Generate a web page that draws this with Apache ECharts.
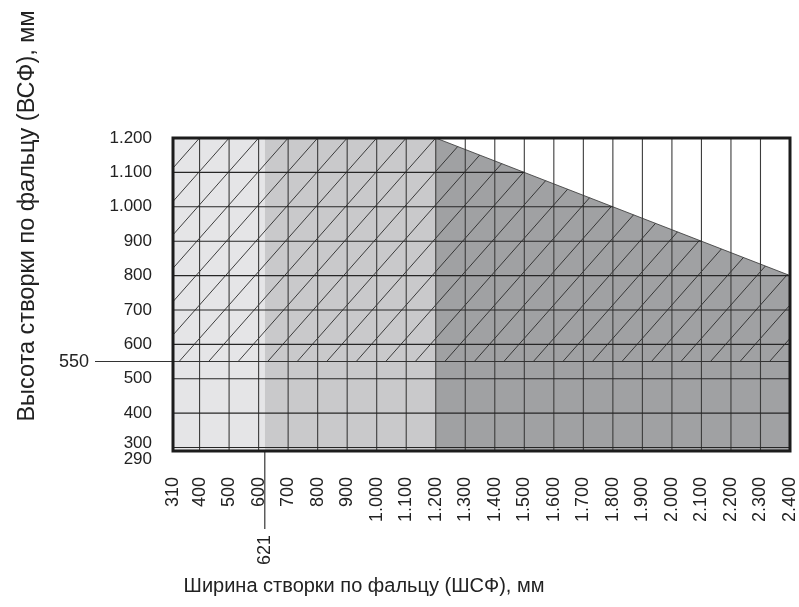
<!DOCTYPE html>
<html>
<head>
<meta charset="utf-8">
<script src="https://cdn.jsdelivr.net/npm/echarts/dist/echarts.min.js"></script>
<style>
html,body{margin:0;padding:0;background:#fff;}
#chart{width:799px;height:607px;}
</style>
</head>
<body>
<div id="chart"></div>
<script>
// ---- data ----
const xTicks = [310,400,500,600,700,800,900,1000,1100,1200,1300,1400,1500,1600,1700,1800,1900,2000,2100,2200,2300,2400];
const yTicks = [290,300,400,500,600,700,800,900,1000,1100,1200];
const zoneBreaks = [310, 621, 1200, 2400];          // width boundaries of shaded zones, mm
const zoneColors = ['#e5e5e7', '#c9c9cb', '#a0a1a3'];
const limitW = [310, 1200, 2400];                    // upper limit line (width, mm)
const limitH = [1200, 1200, 800];                    // upper limit line (height, mm)
const hatchFromH = 550;                              // hatched above this height
const hatchStep = 100;                               // hatch spacing along width, mm
const hatchRun = 1.03;                               // hatch: width change per 1 mm of height
const markW = 621;                                   // marked width
const markH = 550;                                   // marked height
const minW = 310, maxW = 2400, minH = 290, maxH = 1200;

const FONT = '"Liberation Sans", Arial, Helvetica, sans-serif';
const fmt = v => v >= 1000 ? Math.floor(v/1000) + '.' + String(v % 1000).padStart(3,'0') : String(v);

function limitAt(x){
  for (let i = 0; i < limitW.length - 1; i++){
    if (x >= limitW[i] && x <= limitW[i+1]){
      const t = (x - limitW[i]) / (limitW[i+1] - limitW[i]);
      return limitH[i] + t * (limitH[i+1] - limitH[i]);
    }
  }
  return limitH[limitH.length-1];
}
// largest width at which the limit is still >= h
function limitEndW(h){
  for (let i = limitW.length - 1; i > 0; i--){
    const h0 = limitH[i-1], h1 = limitH[i];
    if (h1 >= h) return limitW[i];
    if (h0 >= h){
      const t = (h0 - h) / (h0 - h1);
      return limitW[i-1] + t * (limitW[i] - limitW[i-1]);
    }
  }
  return limitW[0];
}
function zonePolygon(x0, x1){
  const pts = [[x0, minH], [x1, minH]];
  const top = [[x1, limitAt(x1)]];
  for (let i = limitW.length - 1; i >= 0; i--){
    if (limitW[i] > x0 && limitW[i] < x1) top.push([limitW[i], limitH[i]]);
  }
  top.push([x0, limitAt(x0)]);
  return pts.concat(top);
}
// hatch segment for a line that crosses maxH at width xTop
function hatchSegment(xTop){
  let start = [xTop - hatchRun * (maxH - hatchFromH), hatchFromH];
  if (start[0] < minW) start = [minW, maxH - (xTop - minW) / hatchRun];
  if (start[0] > maxW) return null;
  let end;
  if (xTop <= limitW[1]) end = [xTop, maxH];
  else {
    const s = (limitH[1] - limitH[2]) / (limitW[2] - limitW[1]);
    const d = s * (xTop - limitW[1]) / (1 + s * hatchRun);
    end = [xTop - hatchRun * d, maxH - d];
    if (end[0] > maxW){ const d2 = (xTop - maxW) / hatchRun; end = [maxW, maxH - d2]; }
  }
  if (end[1] <= start[1]) return null;
  return [start, end];
}

const hatchTops = [];
for (let x = minW + (hatchStep - minW % hatchStep) % hatchStep; x - hatchRun*(maxH-hatchFromH) < maxW; x += hatchStep){
  if (x === minW) continue;
  hatchTops.push(x);
}

const chart = echarts.init(document.getElementById('chart'), null, {renderer: 'canvas'});

const option = {
  backgroundColor: '#fff',
  animation: false,
  grid: {left: 173, right: 6, top: 138, bottom: 156, containLabel: false, show: false},
  xAxis: {
    type: 'value', min: minW, max: maxW,
    axisLine: {show: false}, axisTick: {show: false}, splitLine: {show: false},
    axisLabel: {
      customValues: xTicks, rotate: 90, margin: 26, fontSize: 18, fontFamily: FONT, color: '#222',
      formatter: v => fmt(v), showMinLabel: true, showMaxLabel: true, hideOverlap: false
    }
  },
  yAxis: {
    type: 'value', min: minH, max: maxH,
    axisLine: {show: false}, axisTick: {show: false}, splitLine: {show: false},
    axisLabel: {
      customValues: yTicks.filter(v => v > minH), margin: 21, fontSize: 17, fontFamily: FONT, color: '#222',
      formatter: v => (v === 300 ? '{up|300}' : fmt(v)),
      rich: {
        up: {fontSize: 17, fontFamily: FONT, color: '#222', padding: [0, 0, 8, 0]}
      },
      showMinLabel: true, showMaxLabel: true, hideOverlap: false
    }
  },
  series: [
    { // shaded zones
      type: 'custom', z: 1, silent: true,
      data: zoneColors.map((c, i) => [zoneBreaks[i], zoneBreaks[i+1], i]),
      renderItem: (params, api) => {
        const x0 = api.value(0), x1 = api.value(1), i = api.value(2);
        const pts = zonePolygon(x0, x1).map(p => api.coord(p));
        return {type: 'polygon', shape: {points: pts}, style: {fill: zoneColors[i], stroke: null}};
      }
    },
    { // hatch
      type: 'custom', z: 2, silent: true,
      data: hatchTops.map(v => [v]),
      renderItem: (params, api) => {
        const seg = hatchSegment(api.value(0));
        if (!seg) return null;
        const a = api.coord(seg[0]), b = api.coord(seg[1]);
        return {type: 'line', shape: {x1: a[0], y1: a[1], x2: b[0], y2: b[1]}, style: {stroke: '#2a2a2a', lineWidth: 0.9}};
      }
    },
    { // vertical grid lines
      type: 'custom', z: 3, silent: true,
      data: xTicks.filter(v => v > minW && v < maxW).map(v => [v]),
      renderItem: (params, api) => {
        const a = api.coord([api.value(0), minH]), b = api.coord([api.value(0), maxH]);
        return {type: 'line', shape: {x1: a[0], y1: a[1], x2: b[0], y2: b[1]}, style: {stroke: '#3c3c3c', lineWidth: 1.1}};
      }
    },
    { // horizontal grid lines (clipped to the limit line)
      type: 'custom', z: 3, silent: true,
      data: yTicks.filter(v => v > minH && v < maxH).map(v => [v]),
      renderItem: (params, api) => {
        const h = api.value(0);
        const a = api.coord([minW, h]), b = api.coord([limitEndW(h), h]);
        return {type: 'line', shape: {x1: a[0], y1: a[1], x2: b[0], y2: b[1]}, style: {stroke: '#262626', lineWidth: 1.1}};
      }
    },
    { // limit outline, marked height & width lines, bottom label, frame
      type: 'custom', z: 4, silent: true,
      data: [[markW, markH]],
      renderItem: (params, api) => {
        const w = api.value(0), h = api.value(1);
        const children = [];
        const lim = limitW.map((x, i) => api.coord([x, limitH[i]]));
        children.push({type: 'polyline', shape: {points: lim.slice(1)}, style: {stroke: '#333', lineWidth: 0.8, fill: null}});
        const hl = api.coord([minW, h]), hr = api.coord([maxW, h]);
        children.push({type: 'line', shape: {x1: 95, y1: hl[1], x2: hr[0], y2: hr[1]}, style: {stroke: '#333', lineWidth: 1.1}});
        children.push({type: 'text', style: {text: String(h), x: 89, y: hl[1], align: 'right', verticalAlign: 'middle', fontSize: 18, fontFamily: FONT, fill: '#222'}});
        const wb = api.coord([w, minH]);
        children.push({type: 'line', shape: {x1: wb[0], y1: wb[1], x2: wb[0], y2: wb[1] + 78}, style: {stroke: '#222', lineWidth: 1.1}});
        children.push({type: 'text', x: wb[0], y: wb[1] + 84, rotation: Math.PI/2,
          style: {text: String(w), x: 0, y: 0, align: 'right', verticalAlign: 'middle', fontSize: 18, fontFamily: FONT, fill: '#222'}});
        // bottom height label (min of the axis), set just below the 300 label
        const bl = api.coord([minW, minH]);
        children.push({type: 'text', style: {text: String(yTicks[0]), x: bl[0] - 21, y: bl[1] + 8, align: 'right', verticalAlign: 'middle', fontSize: 17, fontFamily: FONT, fill: '#222'}});
        const tl = api.coord([minW, maxH]), br = api.coord([maxW, minH]);
        children.push({type: 'rect', shape: {x: tl[0], y: tl[1], width: br[0]-tl[0], height: br[1]-tl[1]}, style: {stroke: '#1c1c1c', lineWidth: 3, fill: null}});
        return {type: 'group', children};
      }
    }
  ],
  graphic: [
    {type: 'text', x: 28, y: 216, rotation: Math.PI/2,
     style: {text: 'Высота створки по фальцу (ВСФ), мм', x: 0, y: 0, align: 'center', verticalAlign: 'middle', fontSize: 23.5, fontFamily: FONT, fill: '#222'}},
    {type: 'text', x: 364, y: 586,
     style: {text: 'Ширина створки по фальцу (ШСФ), мм', x: 0, y: 0, align: 'center', verticalAlign: 'middle', fontSize: 20, fontFamily: FONT, fill: '#222'}}
  ]
};
chart.setOption(option);
</script>
</body>
</html>
